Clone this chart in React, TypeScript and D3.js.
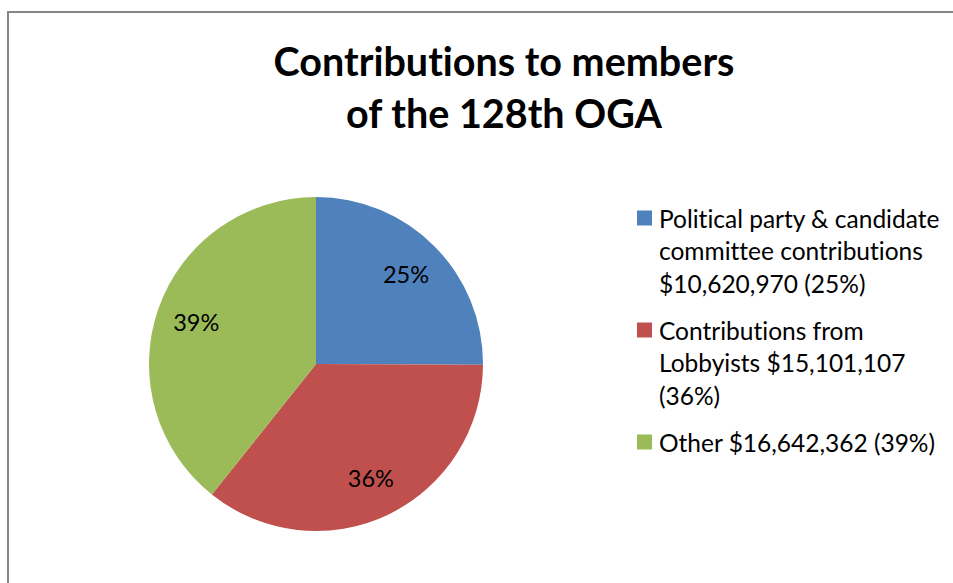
import React, { useEffect } from "react";
import * as d3 from "d3";

const categories = [
  "Political party & candidate committee contributions $10,620,970 (25%)",
  "Contributions from Lobbyists $15,101,107 (36%)",
  "Other $16,642,362 (39%)",
];
const legendLines = [
  ["Political party & candidate", "committee contributions", "$10,620,970 (25%)"],
  ["Contributions from", "Lobbyists $15,101,107", "(36%)"],
  ["Other $16,642,362 (39%)"],
];
const values = [10620970, 15101107, 16642362];
const pctLabels = ["25%", "36%", "39%"];
const colors = ["#4F81BD", "#C0504D", "#9BBB59"];
const titleLines = ["Contributions to members", "of the 128th OGA"];

const FONT = "Lato, 'Noto Sans', sans-serif";

export default function App() {
  useEffect(() => {
    document.body.style.margin = "0";
    document.body.style.overflow = "hidden";
  }, []);

  const W = 953;
  const H = 583;
  const cx = 316;
  const cy = 364;
  const R = 167;

  const pie = d3.pie<number>().sort(null).value((d) => d)(values);
  const arc = d3.arc<d3.PieArcDatum<number>>().innerRadius(0).outerRadius(R);
  const labelArc = d3
    .arc<d3.PieArcDatum<number>>()
    .innerRadius(R * 0.76)
    .outerRadius(R * 0.76);

  const lineH = 32.5;
  const entryGap = 14.5;
  let y = 218;
  const legendY: number[] = [];
  legendLines.forEach((lines) => {
    legendY.push(y);
    y += lines.length * lineH + entryGap;
  });

  return (
    <svg
      width={W}
      height={H}
      style={{ display: "block", fontVariantLigatures: "none", fontFeatureSettings: "'liga' 0, 'clig' 0" }}
      fontFamily={FONT}
    >
      <rect x={0} y={0} width={W} height={H} fill="#fff" />
      <rect
        x={8}
        y={12}
        width={W + 20}
        height={H + 20}
        fill="none"
        stroke="#868686"
        strokeWidth={2}
      />
      {titleLines.map((t, i) => (
        <text
          key={i}
          x={504}
          y={60 + i * 52}
          textAnchor="middle"
          dominantBaseline="central"
          fontWeight="bold"
          fontSize={39.5}
          fill="#000"
        >
          {t}
        </text>
      ))}
      <g transform={`translate(${cx},${cy})`}>
        {pie.map((d, i) => (
          <path key={i} d={arc(d) || ""} fill={colors[i]} />
        ))}
        {pie.map((d, i) => {
          const [lx, ly] = labelArc.centroid(d);
          return (
            <text
              key={"l" + i}
              x={lx}
              y={ly}
              textAnchor="middle"
              dominantBaseline="central"
              fontSize={23.5}
              fill="#000"
            >
              {pctLabels[i]}
            </text>
          );
        })}
      </g>
      {legendLines.map((lines, i) => (
        <g key={categories[i]}>
          <rect
            x={637}
            y={legendY[i] - 7.5}
            width={15}
            height={15}
            fill={colors[i]}
          />
          {lines.map((ln, j) => (
            <text
              key={j}
              x={659}
              y={legendY[i] + j * lineH}
              dominantBaseline="central"
              fontSize={24.5}
              fill="#000"
            >
              {ln}
            </text>
          ))}
        </g>
      ))}
    </svg>
  );
}
